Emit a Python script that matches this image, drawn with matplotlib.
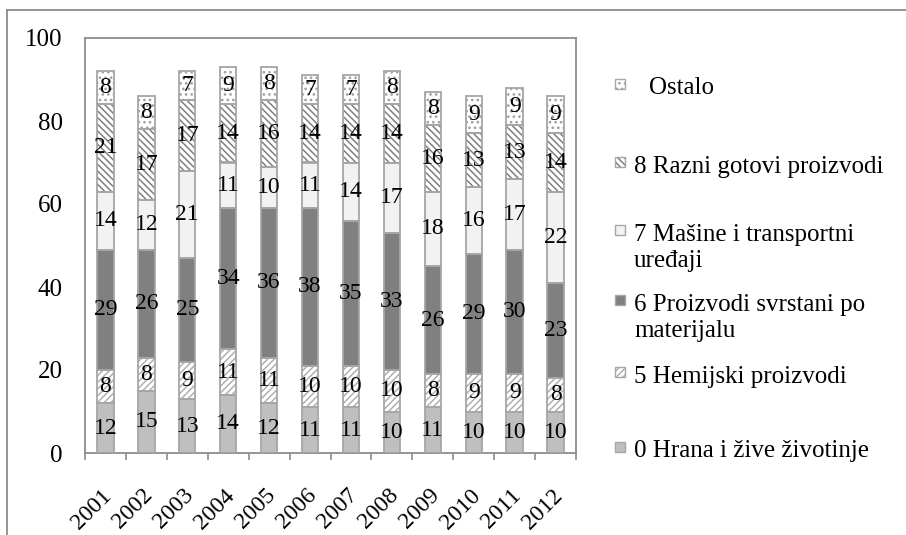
import matplotlib
matplotlib.use("Agg")
import matplotlib.pyplot as plt
from matplotlib.patches import Rectangle
from matplotlib.lines import Line2D
from matplotlib.transforms import ScaledTranslation
import numpy as np

plt.rcParams['font.family'] = ['Liberation Serif', 'DejaVu Serif']
plt.rcParams['hatch.linewidth'] = 1.1

# godine i udjeli (%) po grupama proizvoda
godine = ['2001', '2002', '2003', '2004', '2005', '2006',
          '2007', '2008', '2009', '2010', '2011', '2012']
hrana = [12, 15, 13, 14, 12, 11, 11, 10, 11, 10, 10, 10]
hemijski = [8, 8, 9, 11, 11, 10, 10, 10, 8, 9, 9, 8]
proizvodi = [29, 26, 25, 34, 36, 38, 35, 33, 26, 29, 30, 23]
masine = [14, 12, 21, 11, 10, 11, 14, 17, 18, 16, 17, 22]
razni = [21, 17, 17, 14, 16, 14, 14, 14, 16, 13, 13, 14]
ostalo = [8, 8, 7, 9, 8, 7, 7, 8, 8, 9, 9, 9]

serije = [
    ('0 Hrana i žive životinje', hrana, '#bfbfbf', None, '#bfbfbf'),
    ('5 Hemijski proizvodi', hemijski, 'white', '/////', '#b0b0b0'),
    ('6 Proizvodi svrstani po\nmaterijalu', proizvodi, '#808080', None, '#808080'),
    ('7 Mašine i transportni\nuređaji', masine, '#f2f2f2', None, '#f2f2f2'),
    ('8 Razni gotovi proizvodi', razni, 'white', '\\\\\\\\\\', '#808080'),
    ('Ostalo', ostalo, 'white', '...', '#a0a0a0'),
]

W, H = 906, 535
fig = plt.figure(figsize=(W / 100, H / 100), dpi=100)
ax = fig.add_axes([85 / W, 1 - 453 / H, (576 - 85) / W, (453 - 38) / H])

x = np.arange(len(godine))
bottom = np.zeros(len(godine))
for naziv, vrijednosti, boja, srafura, hboja in serije:
    v = np.array(vrijednosti, dtype=float)
    ax.bar(x, v, 0.4, bottom=bottom, color=boja, hatch=srafura,
           edgecolor=hboja, linewidth=0, zorder=2)
    ax.bar(x, v, 0.4, bottom=bottom, facecolor='none',
           edgecolor='#a6a6a6', linewidth=1.3, zorder=3)
    for xi, b, vi in zip(x, bottom, v):
        ax.text(xi, b + vi / 2, f'{int(vi)}', ha='center', va='center',
                fontsize=17, color='black', zorder=4)
    bottom += v

ax.set_xlim(-0.5, len(godine) - 0.5)
ax.set_ylim(0, 100)
ax.set_yticks(range(0, 101, 20))
ax.tick_params(axis='y', length=0, pad=16, labelsize=18)
ax.set_xticks(x)
ax.set_xticklabels(godine, rotation=45, ha='right', va='top',
                   rotation_mode='anchor', fontsize=17)
ax.tick_params(axis='x', which='major', length=0, pad=23)
pomak = ScaledTranslation(-4 / 100, 0, fig.dpi_scale_trans)
for lbl in ax.get_xticklabels():
    lbl.set_transform(lbl.get_transform() + pomak)
ax.set_xticks(np.arange(-0.5, len(godine), 1), minor=True)
ax.tick_params(axis='x', which='minor', length=5, width=1.2,
               color='#8c8c8c', direction='out')
for s in ax.spines.values():
    s.set_color('#8c8c8c')
    s.set_linewidth(1.3)

# okvir grafikona
fig.add_artist(Line2D([7 / W, 7 / W], [0, 1 - 10 / H], color='#8c8c8c',
                      linewidth=1.3, transform=fig.transFigure))
fig.add_artist(Line2D([7 / W, 1], [1 - 10 / H, 1 - 10 / H], color='#8c8c8c',
                      linewidth=1.3, transform=fig.transFigure))

# legenda
legenda_y = [447, 372, 300, 230, 162, 84]
for (naziv, vrijednosti, boja, srafura, hboja), yy in zip(serije, legenda_y):
    fig.add_artist(Rectangle((615 / W, 1 - (yy + 5) / H), 10 / W, 10 / H,
                             facecolor=boja, hatch=srafura, edgecolor=hboja,
                             linewidth=0, transform=fig.transFigure))
    fig.add_artist(Rectangle((615 / W, 1 - (yy + 5) / H), 10 / W, 10 / H,
                             facecolor='none', edgecolor='#a6a6a6',
                             linewidth=1, transform=fig.transFigure))
    tx = 649 if naziv == 'Ostalo' else 634
    for i, red in enumerate(naziv.split('\n')):
        fig.text(tx / W, 1 - (yy + 2 + i * 27) / H, red, ha='left',
                 va='center_baseline', fontsize=18)

fig.savefig('out.png', dpi=100)
